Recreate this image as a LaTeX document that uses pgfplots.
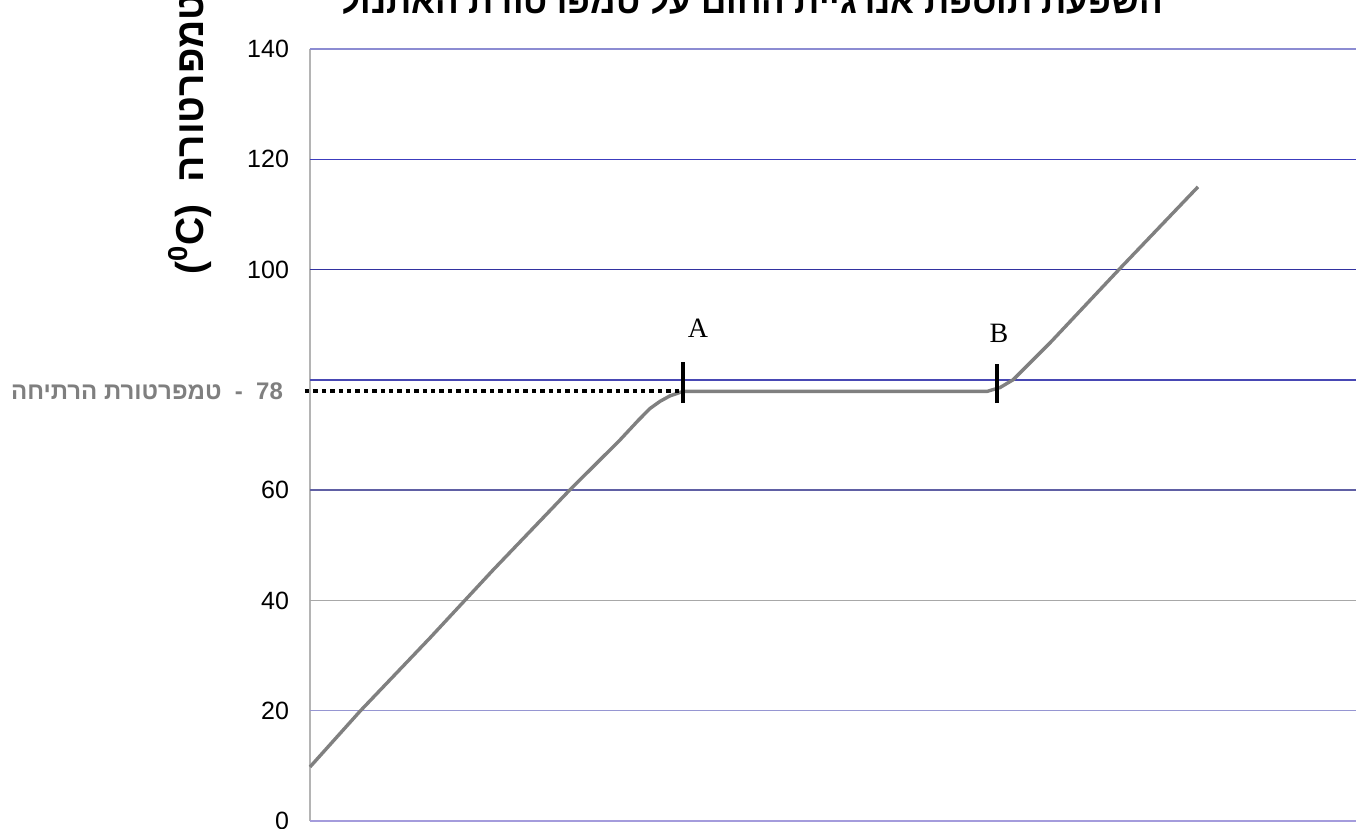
\documentclass[border=0pt]{standalone}
\usepackage{fontspec}
\usepackage{pgfplots}
\pgfplotsset{compat=1.18}
\setmainfont{Liberation Sans}
\newfontfamily\hebfont[Script=Hebrew]{Liberation Sans}
\newfontfamily\seriffont{Liberation Serif}
\TeXXeTstate=1

\definecolor{curvegray}{HTML}{808080}
\definecolor{axisgray}{HTML}{B4B4B4}
\definecolor{labelgray}{HTML}{7F7F7F}

% x in arbitrary energy units (1 unit = 0.5pt), y in deg C
\pgfplotstableread{
x y
0 9.8
50 19.9
120 33.2
183 45.5
258 59.7
310 69.1
328 72.6
340 74.8
350 76.1
360 77.1
373 77.9
677 77.9
690 78.6
703 80.0
740 86.7
810 100.2
888 115.0
}\heating

\begin{document}
\begin{tikzpicture}
\begin{axis}[
  scale only axis,
  width=523pt, height=386pt,
  xmin=0, xmax=1046,
  ymin=0, ymax=140,
  axis x line=none,
  axis y line*=left,
  y axis line style={draw=axisgray, line width=1pt, -},
  xtick=\empty,
  ytick={0,20,40,60,100,120,140},
  major tick length=0pt,
  yticklabel style={font=\fontsize{12.5}{14}\selectfont, xshift=-7pt},
  /pgf/number format/assume math mode=true,
  clip=false,
]
% horizontal grid lines, each in its own shade
\draw[color={rgb,255:red,140;green,140;blue,210}, line width=0.9pt] (axis cs:0,140) -- (axis cs:1046,140);
\draw[color={rgb,255:red,60;green,60;blue,190}, line width=0.7pt] (axis cs:0,120) -- (axis cs:1046,120);
\draw[color={rgb,255:red,50;green,50;blue,160}, line width=0.7pt] (axis cs:0,100) -- (axis cs:1046,100);
\draw[color={rgb,255:red,72;green,72;blue,180}, line width=0.7pt] (axis cs:0,80) -- (axis cs:1046,80);
\draw[color={rgb,255:red,96;green,96;blue,164}, line width=0.7pt] (axis cs:0,60) -- (axis cs:1046,60);
\draw[color={rgb,255:red,168;green,168;blue,168}, line width=0.7pt] (axis cs:0,40) -- (axis cs:1046,40);
\draw[color={rgb,255:red,150;green,150;blue,210}, line width=0.7pt] (axis cs:0,20) -- (axis cs:1046,20);
\draw[color={rgb,255:red,164;green,156;blue,220}, line width=0.9pt] (axis cs:0,0) -- (axis cs:1046,0);

\addplot[curvegray, line width=1.7pt, line join=round, no markers] table[x=x, y=y] {\heating};

% boiling point guide and phase-change marks
\draw[black, line width=2pt, dash pattern=on 2.2pt off 2pt] (axis cs:-5,77.9) -- (axis cs:371,77.9);
\draw[black, line width=2pt] (axis cs:373,75.8) -- (axis cs:373,83.2);
\draw[black, line width=2pt] (axis cs:687,75.8) -- (axis cs:687,82.9);
\node[font=\seriffont\fontsize{14}{16}\selectfont] at (axis cs:388,89.4) {A};
\node[font=\seriffont\fontsize{14}{16}\selectfont] at (axis cs:689,88.5) {B};

\node[anchor=east, text=labelgray, font=\hebfont\bfseries\fontsize{12}{14}\selectfont]
  at (axis cs:-20,77.9) {\beginR\beginL 78\endL{}\ \ -\ \ טמפרטורת הרתיחה\endR};

\node[rotate=90, font=\hebfont\bfseries\fontsize{19.5}{24}\selectfont]
  at ([xshift=-60pt]axis cs:0,124.6) {\beginR טמפרטורה\ \ \beginL{\rmfamily\bfseries(\textsuperscript{0}C)}\endL\endR};

\node[anchor=base, font=\hebfont\bfseries\fontsize{17.5}{20}\selectfont]
  at (axis cs:442,146.5) {\beginR השפעת תוספת אנרגיית החום על טמפרטורת האתנול\endR};
\end{axis}
\pgfresetboundingbox
\useasboundingbox (-155pt,-4pt) rectangle (523pt,410.5pt);
\end{tikzpicture}
\end{document}
